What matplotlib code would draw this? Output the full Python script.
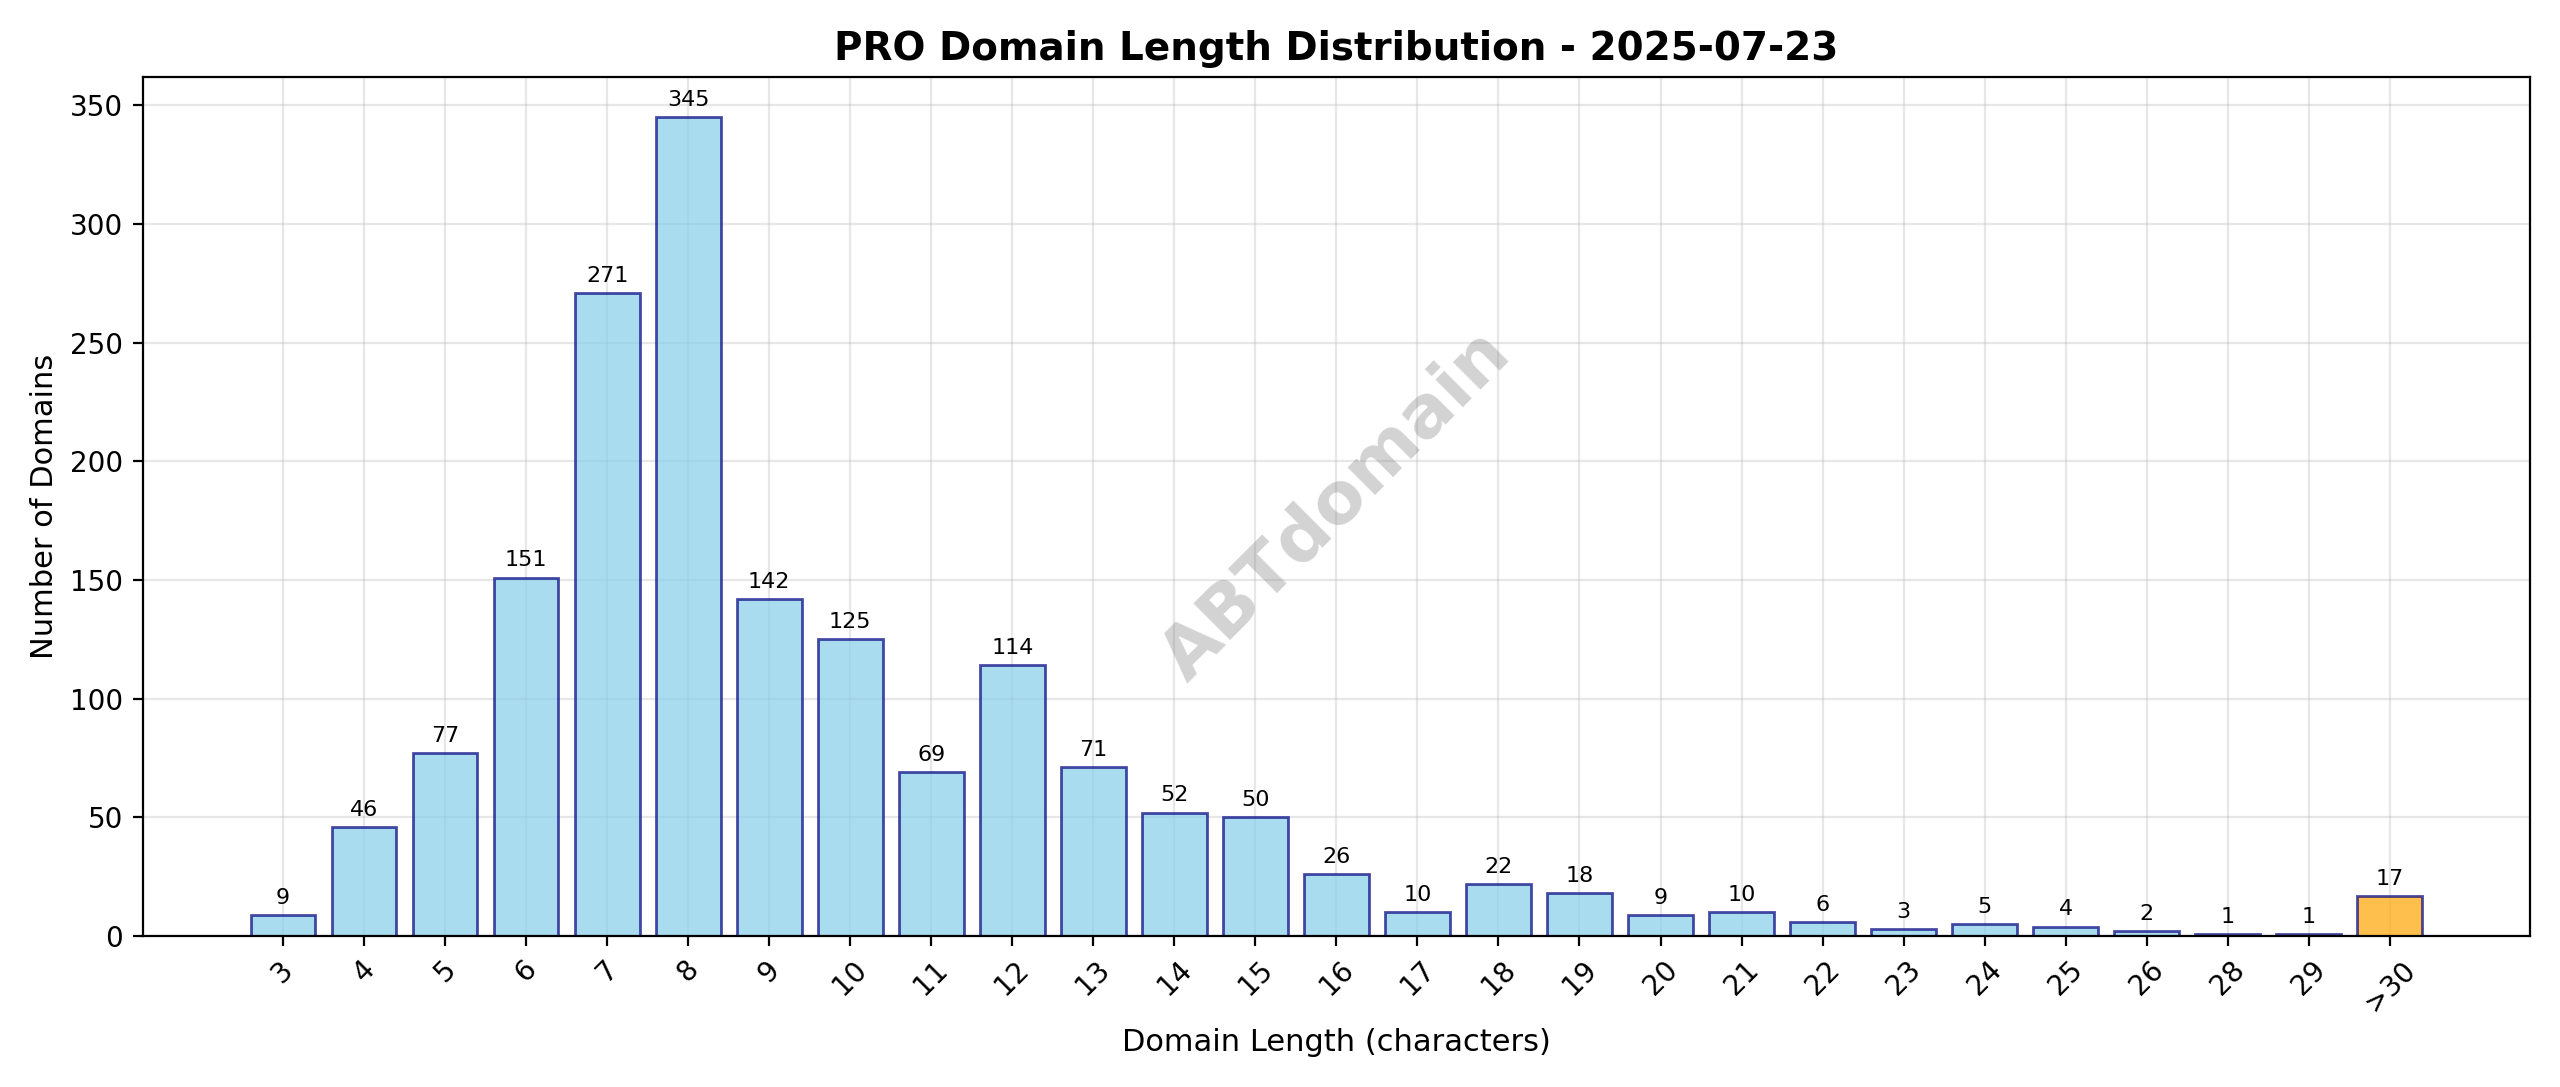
import matplotlib
matplotlib.use("Agg")
import matplotlib.pyplot as plt

categories = ["3","4","5","6","7","8","9","10","11","12","13","14","15","16","17","18","19","20","21","22","23","24","25","26","28","29",">30"]
counts = [9,46,77,151,271,345,142,125,69,114,71,52,50,26,10,22,18,9,10,6,3,5,4,2,1,1,17]

fig, ax = plt.subplots(figsize=(12.8, 5.435), dpi=200)
x = list(range(len(categories)))
colors = ["skyblue"] * (len(categories) - 1) + ["orange"]
bars = ax.bar(x, counts, color=colors, alpha=0.7, edgecolor="navy", linewidth=1)
for b, v in zip(bars, counts):
    ax.text(b.get_x() + b.get_width() / 2, v + 3, str(v), ha="center", va="bottom", fontsize=8)
ax.set_xticks(x)
ax.set_xticklabels(categories, rotation=45)
ax.set_xlim(-1.73, len(categories) - 1 + 1.73)
ax.set_ylim(0, 362)
ax.grid(True, alpha=0.3)
ax.set_axisbelow(True)
ax.set_title("PRO Domain Length Distribution - 2025-07-23", fontsize=14, fontweight="bold")
ax.set_xlabel("Domain Length (characters)", fontsize=11)
ax.set_ylabel("Number of Domains", fontsize=11)
ax.text(0.5, 0.5, "ABTdomain", transform=ax.transAxes, fontsize=26, color="gray",
        alpha=0.35, rotation=45, ha="center", va="center", fontweight="bold")
fig.subplots_adjust(left=0.0297, right=0.608, top=0.963, bottom=0.462)
fig.tight_layout()
fig.savefig("out.png", dpi=200)
